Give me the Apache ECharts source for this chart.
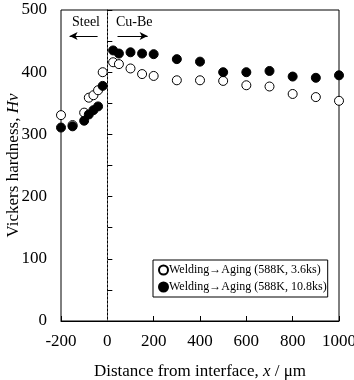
<!DOCTYPE html>
<html>
<head>
<meta charset="utf-8">
<script src="https://cdn.jsdelivr.net/npm/echarts@6/dist/echarts.min.js"></script>
<style>
html,body{margin:0;padding:0;background:#fff;}
#main{width:354px;height:380px;}
</style>
</head>
<body>
<div id="main"></div>
<script>
// 数据: 距界面距离 (um) 与维氏硬度 Hv
var xShort = [-200, -150, -100, -80, -60, -40, -20, 25, 50, 100, 150, 200, 300, 400, 500, 600, 700, 800, 900, 1000];
var hvShort = [331, 315, 335, 359, 363, 371, 400, 416, 413, 406, 397, 394, 387, 387, 386, 379, 377, 365, 360, 354];
var hvLong = [311, 313, 322, 332, 339, 345, 378, 435, 430, 432, 430, 429, 421, 417, 400, 400, 402, 393, 391, 395];
var seriesNames = ['Welding\u2192Aging (588K, 3.6ks)', 'Welding\u2192Aging (588K, 10.8ks)'];
var yTicks = [0, 100, 200, 300, 400, 500];
var xTicks = [-200, 0, 200, 400, 600, 800, 1000];

var font = '"Liberation Serif","DejaVu Serif",serif';

function pairs(xs, ys) {
	var out = [];
	for (var i = 0; i < xs.length; ++i) out.push([xs[i], ys[i]]);
	return out;
}

var chart = echarts.init(document.getElementById('main'));
var option = {
	animation: false,
	textStyle: {fontFamily: font, color: '#000'},
	grid: {left: 61, right: 15, top: 10, bottom: 59, show: true, borderColor: '#000', borderWidth: 1,
		containLabel: false, outerBoundsMode: 'none'},
	xAxis: {
		type: 'value', min: xTicks[0], max: xTicks[xTicks.length - 1], interval: 200,
		axisLine: {lineStyle: {color: '#000'}},
		axisTick: {inside: true, length: 5, lineStyle: {color: '#000'}},
		splitLine: {show: false},
		axisLabel: {color: '#000', fontFamily: font, fontSize: 17, margin: 12,
			formatter: function (v) { return String(v); }},
		name: '{n|Distance from interface, }{i|x}{n| / \u03bcm}',
		nameLocation: 'middle', nameGap: 42, nameMoveOverlap: false,
		nameTextStyle: {rich: {
			n: {fontFamily: font, fontSize: 17, color: '#000'},
			i: {fontFamily: font, fontSize: 17, color: '#000', fontStyle: 'italic'}
		}}
	},
	yAxis: {
		type: 'value', min: yTicks[0], max: yTicks[yTicks.length - 1], interval: 100,
		axisLine: {show: true, lineStyle: {color: '#000'}},
		axisTick: {inside: true, length: 5, lineStyle: {color: '#000'}},
		minorTick: {show: true, splitNumber: 2, length: 5, lineStyle: {color: '#000'}},
		splitLine: {show: false},
		axisLabel: {color: '#000', fontFamily: font, fontSize: 17, margin: 14},
		name: '{n|Vickers hardness, }{i|Hv}',
		nameLocation: 'middle', nameGap: 39, nameMoveOverlap: false,
		nameTextStyle: {rich: {
			n: {fontFamily: font, fontSize: 17, color: '#000'},
			i: {fontFamily: font, fontSize: 17, color: '#000', fontStyle: 'italic'}
		}}
	},
	legend: {
		orient: 'vertical', left: 153, top: 260,
		padding: [4, 1, 4, 5], itemGap: 5,
		borderColor: '#000', borderWidth: 1,
		itemWidth: 9, itemHeight: 9,
		textStyle: {fontFamily: font, fontSize: 12, color: '#000', padding: [0, 0, 0, -4]},
		data: [
			{name: seriesNames[0], icon: 'circle'},
			{name: seriesNames[1], icon: 'circle'}
		]
	},
	graphic: [
		{type: 'text', left: 72, top: 15, style: {text: 'Steel', font: '14px ' + font, fill: '#000'}},
		{type: 'text', left: 116, top: 15, style: {text: 'Cu-Be', font: '14px ' + font, fill: '#000'}}
	],
	series: [
		{
			name: seriesNames[0], type: 'scatter', symbol: 'circle', symbolSize: 9,
			itemStyle: {color: '#fff', borderColor: '#000', borderWidth: 1, opacity: 1},
			data: pairs(xShort, hvShort),
			markLine: {
				silent: true, animation: false,
				label: {show: false},
				lineStyle: {color: '#555', type: [2, 2], width: 1},
				symbol: ['none', 'none'],
				data: [
					[{coord: [0, 0]}, {coord: [0, 500]}],
					[{coord: [-42, 458], symbol: 'none', lineStyle: {color: '#000', type: 'solid'}}, {coord: [-163, 458], symbol: 'arrow', symbolSize: [6, 8]}],
					[{coord: [44, 458], symbol: 'none', lineStyle: {color: '#000', type: 'solid'}}, {coord: [174, 458], symbol: 'arrow', symbolSize: [6, 8]}]
				]
			}
		},
		{
			name: seriesNames[1], type: 'scatter', symbol: 'circle', symbolSize: 9,
			itemStyle: {color: '#000', borderColor: '#000', borderWidth: 1, opacity: 1},
			data: pairs(xShort, hvLong)
		}
	]
};
chart.setOption(option);
</script>
</body>
</html>
